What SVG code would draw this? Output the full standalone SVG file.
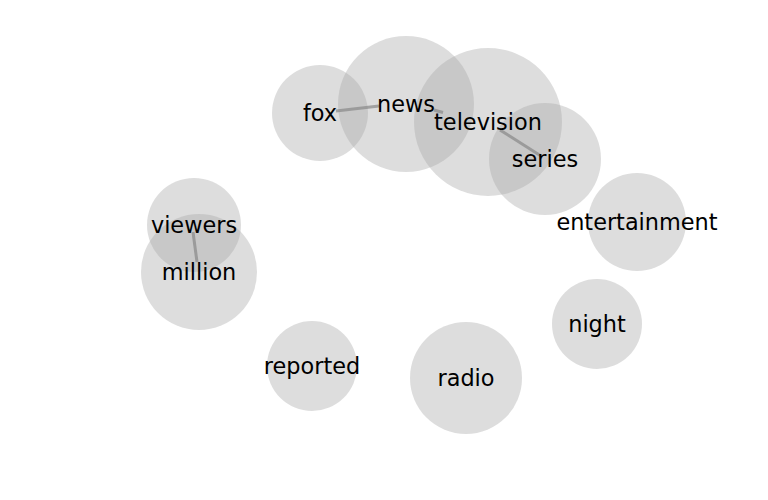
<svg xmlns="http://www.w3.org/2000/svg" width="768" height="500" viewBox="0 0 768 500">
<style>
.n circle{fill:#aaaaaa;fill-opacity:0.4}
.n text{font-family:"DejaVu Sans",sans-serif;font-size:22.4px;fill:#000;text-anchor:middle}
.e line{stroke:#888;stroke-opacity:0.7;stroke-width:3;stroke-linecap:butt}
</style>
<rect width="768" height="500" fill="#fff"/>
<g id="nodes-circles">
<g id="fox" class="n"><circle cx="320" cy="113" r="48"/></g>
<g id="news" class="n"><circle cx="406" cy="104" r="68"/></g>
<g id="television" class="n"><circle cx="488" cy="122" r="74"/></g>
<g id="series" class="n"><circle cx="545" cy="159" r="56"/></g>
<g id="entertainment" class="n"><circle cx="637" cy="222" r="49"/></g>
<g id="night" class="n"><circle cx="597" cy="324" r="45"/></g>
<g id="radio" class="n"><circle cx="466" cy="378" r="56"/></g>
<g id="reported" class="n"><circle cx="312" cy="366" r="45"/></g>
<g id="million" class="n"><circle cx="199" cy="272" r="58"/></g>
<g id="viewers" class="n"><circle cx="194" cy="225" r="47"/></g>
</g>
<g id="connectors" class="e">
<line x1="336" y1="111" x2="379" y2="106"/>
<line x1="434" y1="110" x2="443" y2="112.5"/>
<line x1="500" y1="130" x2="541" y2="156"/>
<line x1="193" y1="232" x2="197" y2="262"/>
</g>
<g id="labels">
<g class="n"><text x="320" y="121">fox</text></g>
<g class="n"><text x="406" y="111.5">news</text></g>
<g class="n"><text x="488" y="130">television</text></g>
<g class="n"><text x="545" y="167">series</text></g>
<g class="n"><text x="637" y="230">entertainment</text></g>
<g class="n"><text x="597" y="332">night</text></g>
<g class="n"><text x="466" y="386">radio</text></g>
<g class="n"><text x="312" y="374">reported</text></g>
<g class="n"><text x="199" y="280">million</text></g>
<g class="n"><text x="194" y="233">viewers</text></g>
</g>
</svg>
